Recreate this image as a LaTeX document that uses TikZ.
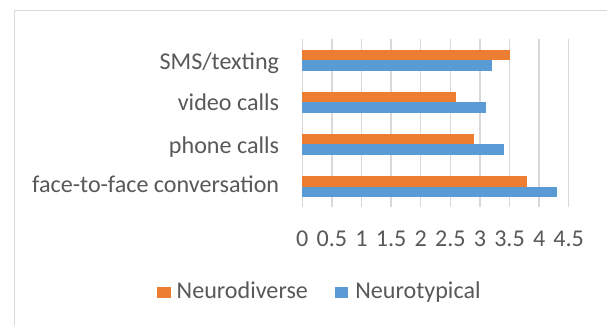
\documentclass[tikz,border=0pt]{standalone}
\usepackage{fontspec}
\setmainfont{Carlito}
\definecolor{ndorange}{HTML}{ED7D31}
\definecolor{ntblue}{HTML}{5B9BD5}
\definecolor{txtgray}{HTML}{595959}
\definecolor{gridgray}{HTML}{D9D9D9}
\tikzset{
  lbl/.style={text=txtgray, font=\fontsize{24.1}{28}\selectfont, inner sep=0pt},
  gridl/.style={draw=gridgray, line width=1.4pt},
  frameline/.style={draw=gridgray, line width=1pt},
  ndbar/.style={fill=ndorange},
  ntbar/.style={fill=ntblue}
}
\begin{document}
\begin{tikzpicture}[x=1pt,y=-1pt]
\useasboundingbox[fill=white] (0,0) rectangle (607,326);
% chart frame (continues past right and bottom edges)
\draw[frameline] (607,10.7) -- (14.7,10.7) -- (14.7,326);
% gridlines
\foreach \i in {0,...,9}{
  \draw[gridl] ({302.3+29.6*\i},39.3) -- ({302.3+29.6*\i},207.3);
}
% bars
\foreach \c/\o/\b in {60.5/3.5/3.2, 102.2/2.6/3.1, 144.4/2.9/3.4, 186.5/3.8/4.3}{
  \fill[ndbar] (302.3,{\c-10.5}) rectangle ({302.3+59.2*\o},\c);
  \fill[ntbar] (302.3,\c) rectangle ({302.3+59.2*\b},{\c+10.8});
}
% category labels
\node[lbl,anchor=base east] (cSMS) at (279.3,69.3) {SMS/texting};
\node[lbl,anchor=base east] (cVid) at (279.3,110.2) {video calls};
\node[lbl,anchor=base east] (cPho) at (279.3,153.0) {phone calls};
\node[lbl,anchor=base east] (cF2F) at (279.3,192.7) {face-to-face conversation};
% tick labels
\foreach \i/\t in {0/0,1/0.5,2/1,3/1.5,4/2,5/2.5,6/3,7/3.5,8/4,9/4.5}{
  \node[lbl,anchor=base] (t\i) at ({302.3+29.6*\i},246.6) {\t};
}
% legend
\fill[ndbar] (157.3,286.7) rectangle (170.7,298.3);
\node[lbl,anchor=base west] (lgND) at (176.5,298.3) {Neurodiverse};
\fill[ntbar] (335,286.7) rectangle (348.3,298.3);
\node[lbl,anchor=base west] (lgNT) at (355.2,298.3) {Neurotypical};
\end{tikzpicture}
\end{document}
